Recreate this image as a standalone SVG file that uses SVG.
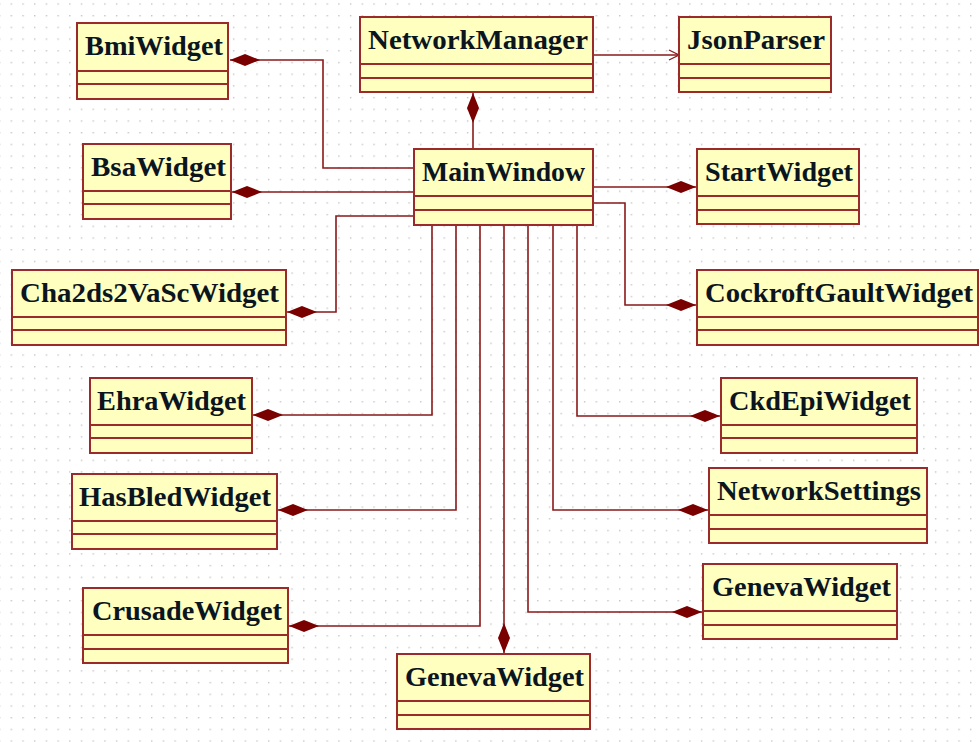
<svg xmlns="http://www.w3.org/2000/svg" width="980" height="742" viewBox="0 0 980 742">
  <defs>
    <pattern id="grid" x="10.6" y="3.3" width="11.7" height="11.7" patternUnits="userSpaceOnUse">
      <rect x="0" y="0" width="1.4" height="1.4" fill="#c4c4c4"/>
    </pattern>
    <!-- filled composition diamond, tip placed on the line end -->
    <marker id="diamond" viewBox="0 0 30 12" refX="30" refY="6" markerWidth="30" markerHeight="12" markerUnits="userSpaceOnUse" orient="auto">
      <path d="M0,6 L15,0 L30,6 L15,12 Z" fill="#7a0000"/>
    </marker>
    <!-- open dependency arrowhead -->
    <marker id="open" viewBox="0 0 12 12" refX="11" refY="6" markerWidth="12" markerHeight="12" markerUnits="userSpaceOnUse" orient="auto">
      <path d="M1,1 L11,6 L1,11" fill="none" stroke="#8b1a1a" stroke-width="1.3"/>
    </marker>
  </defs>
  <style>
    .box { fill: #ffffc0; stroke: #9b2a2a; stroke-width: 2; }
    .sep { stroke: #9b2a2a; stroke-width: 2; }
    .name { font-family: "Liberation Serif", "Times New Roman", serif; font-weight: bold; font-size: 28px; fill: #0b1520; }
    .conn { fill: none; stroke: #8b1a1a; stroke-width: 1.6; }
  </style>

  <rect x="0" y="0" width="980" height="742" fill="#ffffff"/>
  <rect x="0" y="0" width="980" height="742" fill="url(#grid)"/>

  <!-- connectors -->
  <g id="connectors">
    <path class="conn" d="M414,168 H323 V60 H230" marker-end="url(#diamond)"/>
    <path class="conn" d="M414,192 H232" marker-end="url(#diamond)"/>
    <path class="conn" d="M414,216 H336 V312 H287" marker-end="url(#diamond)"/>
    <path class="conn" d="M432,225 V415 H253" marker-end="url(#diamond)"/>
    <path class="conn" d="M456,225 V510 H278" marker-end="url(#diamond)"/>
    <path class="conn" d="M480,225 V626 H289" marker-end="url(#diamond)"/>
    <path class="conn" d="M504,225 V653" marker-end="url(#diamond)"/>
    <path class="conn" d="M528,225 V612 H702" marker-end="url(#diamond)"/>
    <path class="conn" d="M553,225 V510 H708" marker-end="url(#diamond)"/>
    <path class="conn" d="M577,225 V416 H720" marker-end="url(#diamond)"/>
    <path class="conn" d="M593,203 H625 V305 H696" marker-end="url(#diamond)"/>
    <path class="conn" d="M593,187 H696" marker-end="url(#diamond)"/>
    <path class="conn" d="M473,149 V93" marker-end="url(#diamond)"/>
    <path class="conn" d="M593,55 H679" marker-end="url(#open)"/>
  </g>

  <g id="BmiWidget">
    <rect class="box" x="77" y="23" width="151" height="76"/>
    <line class="sep" x1="77" y1="71" x2="228" y2="71"/>
    <line class="sep" x1="77" y1="84" x2="228" y2="84"/>
    <text class="name" x="85" y="55" textLength="138" lengthAdjust="spacingAndGlyphs">BmiWidget</text>
  </g>

  <g id="NetworkManager">
    <rect class="box" x="360" y="17" width="233" height="75"/>
    <line class="sep" x1="360" y1="64" x2="593" y2="64"/>
    <line class="sep" x1="360" y1="78" x2="593" y2="78"/>
    <text class="name" x="368" y="49" textLength="220" lengthAdjust="spacingAndGlyphs">NetworkManager</text>
  </g>

  <g id="JsonParser">
    <rect class="box" x="679" y="17" width="152" height="75"/>
    <line class="sep" x1="679" y1="64" x2="831" y2="64"/>
    <line class="sep" x1="679" y1="78" x2="831" y2="78"/>
    <text class="name" x="687" y="49" textLength="138" lengthAdjust="spacingAndGlyphs">JsonParser</text>
  </g>

  <g id="MainWindow">
    <rect class="box" x="414" y="149" width="179" height="76"/>
    <line class="sep" x1="414" y1="196" x2="593" y2="196"/>
    <line class="sep" x1="414" y1="210" x2="593" y2="210"/>
    <text class="name" x="422" y="181" textLength="163" lengthAdjust="spacingAndGlyphs">MainWindow</text>
  </g>

  <g id="StartWidget">
    <rect class="box" x="697" y="149" width="162" height="75"/>
    <line class="sep" x1="697" y1="196" x2="859" y2="196"/>
    <line class="sep" x1="697" y1="210" x2="859" y2="210"/>
    <text class="name" x="705" y="181" textLength="148" lengthAdjust="spacingAndGlyphs">StartWidget</text>
  </g>

  <g id="BsaWidget">
    <rect class="box" x="83" y="144" width="148" height="75"/>
    <line class="sep" x1="83" y1="191" x2="231" y2="191"/>
    <line class="sep" x1="83" y1="204" x2="231" y2="204"/>
    <text class="name" x="91" y="176" textLength="135" lengthAdjust="spacingAndGlyphs">BsaWidget</text>
  </g>

  <g id="Cha2ds2VaScWidget">
    <rect class="box" x="12" y="270" width="274" height="75"/>
    <line class="sep" x1="12" y1="317" x2="286" y2="317"/>
    <line class="sep" x1="12" y1="330" x2="286" y2="330"/>
    <text class="name" x="20" y="302" textLength="259" lengthAdjust="spacingAndGlyphs">Cha2ds2VaScWidget</text>
  </g>

  <g id="CockroftGaultWidget">
    <rect class="box" x="697" y="270" width="281" height="75"/>
    <line class="sep" x1="697" y1="317" x2="978" y2="317"/>
    <line class="sep" x1="697" y1="330" x2="978" y2="330"/>
    <text class="name" x="705" y="302" textLength="268" lengthAdjust="spacingAndGlyphs">CockroftGaultWidget</text>
  </g>

  <g id="EhraWidget">
    <rect class="box" x="90" y="378" width="162" height="75"/>
    <line class="sep" x1="90" y1="425" x2="252" y2="425"/>
    <line class="sep" x1="90" y1="438" x2="252" y2="438"/>
    <text class="name" x="97" y="410" textLength="149" lengthAdjust="spacingAndGlyphs">EhraWidget</text>
  </g>

  <g id="CkdEpiWidget">
    <rect class="box" x="721" y="378" width="196" height="75"/>
    <line class="sep" x1="721" y1="425" x2="917" y2="425"/>
    <line class="sep" x1="721" y1="438" x2="917" y2="438"/>
    <text class="name" x="729" y="410" textLength="182" lengthAdjust="spacingAndGlyphs">CkdEpiWidget</text>
  </g>

  <g id="HasBledWidget">
    <rect class="box" x="72" y="474" width="205" height="75"/>
    <line class="sep" x1="72" y1="521" x2="277" y2="521"/>
    <line class="sep" x1="72" y1="534" x2="277" y2="534"/>
    <text class="name" x="79" y="506" textLength="192" lengthAdjust="spacingAndGlyphs">HasBledWidget</text>
  </g>

  <g id="NetworkSettings">
    <rect class="box" x="709" y="468" width="218" height="75"/>
    <line class="sep" x1="709" y1="515" x2="927" y2="515"/>
    <line class="sep" x1="709" y1="529" x2="927" y2="529"/>
    <text class="name" x="717" y="500" textLength="204" lengthAdjust="spacingAndGlyphs">NetworkSettings</text>
  </g>

  <g id="CrusadeWidget">
    <rect class="box" x="83" y="588" width="205" height="75"/>
    <line class="sep" x1="83" y1="635" x2="288" y2="635"/>
    <line class="sep" x1="83" y1="649" x2="288" y2="649"/>
    <text class="name" x="92" y="620" textLength="190" lengthAdjust="spacingAndGlyphs">CrusadeWidget</text>
  </g>

  <g id="GenevaWidget-right">
    <rect class="box" x="703" y="564" width="194" height="75"/>
    <line class="sep" x1="703" y1="611" x2="897" y2="611"/>
    <line class="sep" x1="703" y1="625" x2="897" y2="625"/>
    <text class="name" x="712" y="596" textLength="179" lengthAdjust="spacingAndGlyphs">GenevaWidget</text>
  </g>

  <g id="GenevaWidget-bottom">
    <rect class="box" x="397" y="654" width="193" height="75"/>
    <line class="sep" x1="397" y1="701" x2="590" y2="701"/>
    <line class="sep" x1="397" y1="715" x2="590" y2="715"/>
    <text class="name" x="405" y="686" textLength="179" lengthAdjust="spacingAndGlyphs">GenevaWidget</text>
  </g>
</svg>
